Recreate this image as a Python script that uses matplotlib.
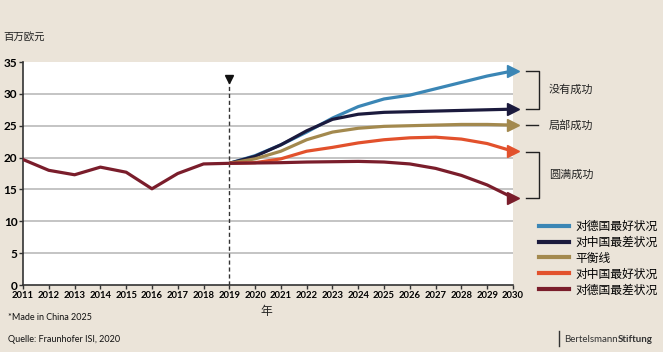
import matplotlib
matplotlib.use('Agg')
import matplotlib.pyplot as plt
from matplotlib.lines import Line2D

plt.rcParams['font.family'] = ['Noto Sans CJK SC', 'DejaVu Sans']

# Daten
hist_years = [2011, 2012, 2013, 2014, 2015, 2016, 2017, 2018, 2019]
hist_values = [19.7, 18.0, 17.3, 18.5, 17.7, 15.1, 17.5, 19.0, 19.1]

proj_years = [2019, 2020, 2021, 2022, 2023, 2024, 2025, 2026, 2027, 2028, 2029, 2030]
de_best = [19.1, 20.3, 22.0, 24.0, 26.2, 28.0, 29.2, 29.8, 30.8, 31.8, 32.8, 33.6]
cn_worst = [19.1, 20.2, 22.0, 24.2, 26.0, 26.8, 27.1, 27.2, 27.3, 27.4, 27.5, 27.6]
balance = [19.1, 19.8, 21.0, 22.8, 24.0, 24.6, 24.9, 25.0, 25.1, 25.2, 25.2, 25.1]
cn_best = [19.1, 19.2, 19.8, 21.0, 21.6, 22.3, 22.8, 23.1, 23.2, 22.9, 22.2, 21.0]
de_worst = [19.1, 19.15, 19.2, 19.3, 19.35, 19.4, 19.3, 19.0, 18.3, 17.2, 15.7, 13.7]

series_labels = ['对德国最好状况', '对中国最差状况', '平衡线', '对中国最好状况', '对德国最差状况']
series_colors = ['#3b86b5', '#1b1a3d', '#a3894e', '#e2512c', '#7a1d2b']
x_ticks = list(range(2011, 2031))
y_ticks = [0, 5, 10, 15, 20, 25, 30, 35]

bg = '#ebe4d9'
fig = plt.figure(figsize=(6.63, 3.52), dpi=100, facecolor=bg)
ax = fig.add_axes([23 / 663, 1 - 285 / 352, 490 / 663, 223 / 352])
ax.set_facecolor('white')

# Gitterlinien
for yv in y_ticks[1:-1]:
    ax.axhline(yv, color='#b4b4b4', linewidth=1.1, zorder=1)

# 2019 Markierung
ax.plot([2019, 2019], [0, 32.4], color='#333333', linestyle=(0, (3, 2)), linewidth=1.0, zorder=2)
ax.plot([2019], [32.4], marker='v', color='#111111', markersize=6, zorder=3, clip_on=False)

ax.plot(hist_years, hist_values, color=series_colors[4], linewidth=2.3, zorder=4)

projections = [de_best, cn_worst, balance, cn_best, de_worst]
for vals, col in zip(projections, series_colors):
    ax.plot(proj_years, vals, color=col, linewidth=2.3, zorder=4, solid_capstyle='butt')
    ax.plot(proj_years[-1], vals[-1], marker='>', color=col, markersize=9, zorder=5, clip_on=False)

ax.set_xlim(2011, 2030)
ax.set_ylim(0, 35)
ax.set_xticks(x_ticks)
ax.set_yticks(y_ticks)
ax.set_xticklabels([str(y) for y in x_ticks], fontsize=6.8, fontweight='bold',
                   family=['Lato', 'DejaVu Sans'])
ax.set_yticklabels([str(y) for y in y_ticks], fontsize=8.5, fontweight='bold',
                   family=['Lato', 'DejaVu Sans'])
ax.tick_params(axis='both', length=3, width=1, color='#333333', pad=1)
for s in ['top', 'right']:
    ax.spines[s].set_visible(False)
for s in ['left', 'bottom']:
    ax.spines[s].set_color('#333333')
    ax.spines[s].set_linewidth(1.2)

# Klammern rechts
tr = ax.get_yaxis_transform()
def bracket(y0, y1):
    ax.plot([1.026, 1.053, 1.053, 1.026], [y0, y0, y1, y1], color='#222222',
            linewidth=1.0, transform=tr, clip_on=False)

bracket(de_best[-1], cn_worst[-1])
ax.plot([1.026, 1.051], [balance[-1], balance[-1]], color='#222222', linewidth=1.0,
        transform=tr, clip_on=False)
bracket(cn_best[-1] - 0.2, de_worst[-1])
ax.text(1.073, (de_best[-1] + cn_worst[-1]) / 2, '没有成功', transform=tr, fontsize=8,
        va='center', ha='left', color='#222222')
ax.text(1.073, balance[-1], '局部成功', transform=tr, fontsize=8,
        va='center', ha='left', color='#222222')
ax.text(1.073, (cn_best[-1] + de_worst[-1]) / 2, '圆满成功', transform=tr, fontsize=8,
        va='center', ha='left', color='#222222')

# Legende
handles = [Line2D([], [], color=c, linewidth=3) for c in series_colors]
fig.legend(handles, series_labels, loc='upper left', bbox_to_anchor=(534 / 663, 1 - 215 / 352),
           frameon=False, fontsize=8.5, handlelength=2.6, handletextpad=0.5,
           labelspacing=0.25, borderaxespad=0)

# Texte
fig.text(3 / 663, 1 - 37 / 352, '百万欧元', fontsize=7.5, va='center', ha='left', color='#222222')
fig.text(266 / 663, 1 - 311 / 352, '年', fontsize=8.5, va='center', ha='center', color='#222222')
fig.text(8 / 663, 1 - 318 / 352, '*Made in China 2025', fontsize=6.5, va='center', ha='left',
         family=['Lato', 'DejaVu Sans'], color='#111111')
fig.text(8 / 663, 1 - 340 / 352, 'Quelle: Fraunhofer ISI, 2020', fontsize=6.5, va='center', ha='left',
         family=['Lato', 'DejaVu Sans'], color='#111111')

# Logo-Schriftzug
fig.add_artist(Line2D([559 / 663, 559 / 663], [1 - 331 / 352, 1 - 346 / 352], color='#333333', linewidth=1))
t1 = fig.text(564 / 663, 1 - 339 / 352, 'Bertelsmann', fontsize=7, va='center', ha='left',
              family=['Lato', 'DejaVu Sans'], color='#333333')
ax.annotate('Stiftung', xy=(1, 0.5), xycoords=t1, va='center', ha='left', fontsize=7,
            family=['Lato', 'DejaVu Sans'], fontweight='bold', color='#333333',
            annotation_clip=False)

fig.savefig('out.png', dpi=100, facecolor=bg)
